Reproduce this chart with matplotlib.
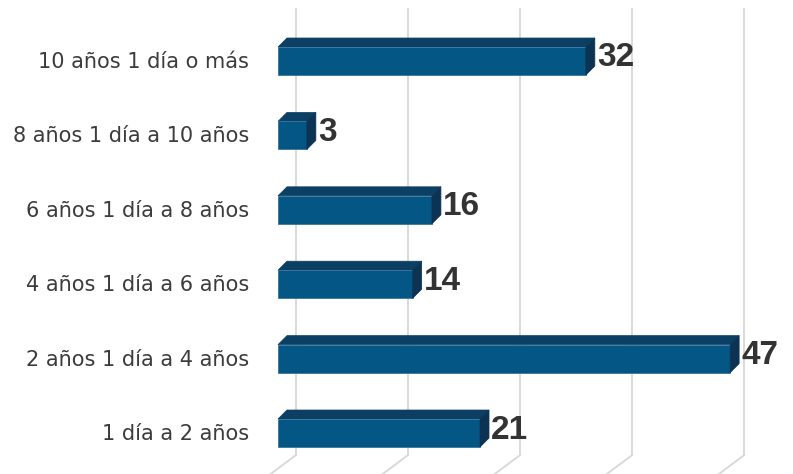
import numpy as np
import matplotlib
matplotlib.use('Agg')
import matplotlib.pyplot as plt
from matplotlib.patches import Polygon

categories = ["10 años 1 día o más", "8 años 1 día a 10 años", "6 años 1 día a 8 años",
              "4 años 1 día a 6 años", "2 años 1 día a 4 años", "1 día a 2 años"]
values = [32, 3, 16, 14, 47, 21]

W, H = 793, 474
px_x = 9.62          # pixels per unit on the value axis
px_y = 74.4          # pixels between bar rows
x0_px = 278          # where 0 sits (bar front face)
y0_px = 61           # centre of first row from top

fig = plt.figure(figsize=(W / 100, H / 100), dpi=100)
ax = fig.add_axes([0, 0, 1, 1])
ax.set_xlim(-x0_px / px_x, (W - x0_px) / px_x)
ax.set_ylim(len(values) - 1 + (H - y0_px - 5 * px_y) / px_y, -y0_px / px_y)
ax.axis('off')

def dx(p):
    return p / px_x

def dy(p):
    return p / px_y

# gridlines on the back wall with floor edge going down-left
grid_step = 11.65
for k in range(5):
    gx = dx(18) + k * grid_step
    ax.plot([gx, gx], [-dy(y0_px - 9), len(values) - 1 + dy(22)],
            color='#d9d9d9', lw=1.4, zorder=0)
    ax.plot([gx, gx - dx(40)], [len(values) - 1 + dy(22), len(values) - 1 + dy(52)],
            color='#d9d9d9', lw=1.4, zorder=0)

h = dy(28)
ddx, ddy = dx(9), dy(9)
for i, (cat, v) in enumerate(zip(categories, values)):
    top, bot = i - h / 2, i + h / 2
    ax.barh(i, v, height=h, left=0, color='#045785', edgecolor='#3a76a0', lw=0.6, zorder=3)
    ax.add_patch(Polygon([[0, top], [v, top], [v + ddx, top - ddy], [ddx, top - ddy]],
                         closed=True, fc='#0b3f63', ec='#0b3f63', lw=0.5, zorder=2))
    ax.add_patch(Polygon([[v, top], [v + ddx, top - ddy], [v + ddx, bot - ddy], [v, bot]],
                         closed=True, fc='#0c3354', ec='#0c3354', lw=0.5, zorder=4))
    ax.text(-dx(29), i + dy(1), cat, ha='right', va='center', fontsize=15,
            family='DejaVu Sans', color='#3c3c3c')
    ax.text(v + dx(11), i - dy(3), str(v), ha='left', va='center', fontsize=24,
            fontweight='bold', family='Liberation Sans', color='#333333')

fig.savefig('out.png', dpi=100)
